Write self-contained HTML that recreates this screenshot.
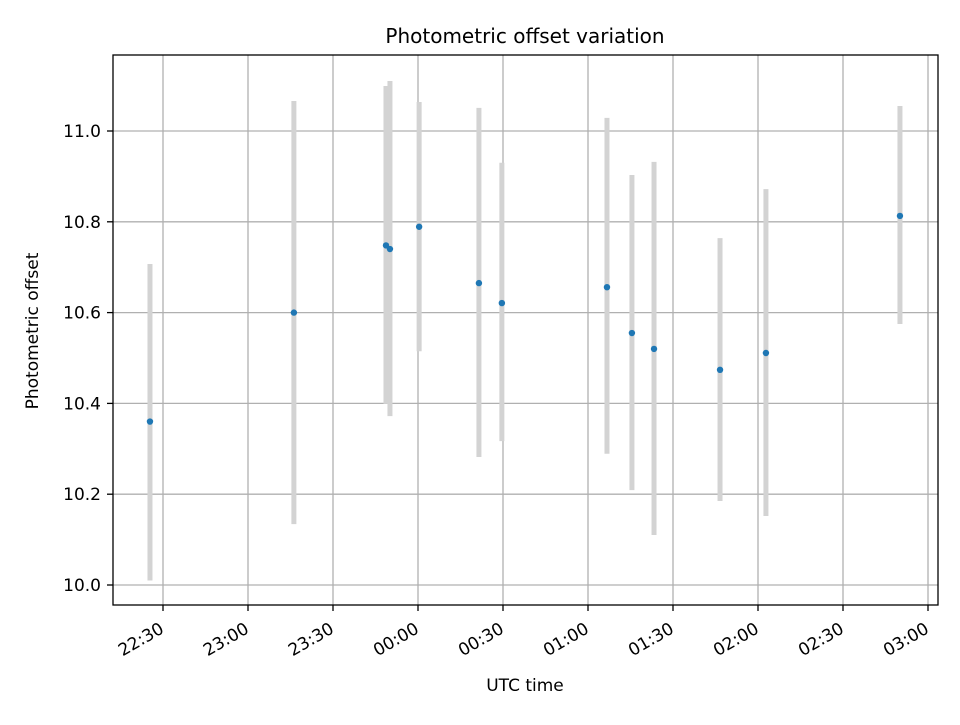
<!DOCTYPE html>
<html><head><meta charset="utf-8"><style>
body{margin:0;background:#fff;}
svg{font-family:"DejaVu Sans","Liberation Sans",sans-serif;}
</style></head><body>
<svg id="chart" width="960" height="720" xmlns="http://www.w3.org/2000/svg">
<rect width="960" height="720" fill="#fff"/>
<text x="525" y="43" text-anchor="middle" font-size="20" fill="#000">Photometric offset variation</text>
<g id="grid"></g>
<g id="errs"></g>
<g id="pts"></g>
<rect x="113" y="55" width="825" height="550" fill="none" stroke="#000" stroke-width="1.3"/>
<g id="xt"></g>
<g id="yt"></g>
<text x="525" y="691" text-anchor="middle" font-size="17">UTC time</text>
<text transform="translate(38,331) rotate(-90)" text-anchor="middle" font-size="17">Photometric offset</text>
</svg>
<script>
// minutes after 22:30
const times = [-4.6, 46.2, 78.7, 80.1, 90.4, 111.5, 119.6, 156.7, 165.5, 173.3, 196.6, 212.8, 260.1];
const values = [10.36, 10.60, 10.748, 10.740, 10.789, 10.665, 10.621, 10.656, 10.555, 10.520, 10.474, 10.511, 10.813];
const errLow = [10.01, 10.134, 10.399, 10.372, 10.515, 10.282, 10.317, 10.289, 10.209, 10.110, 10.185, 10.152, 10.575];
const errHigh = [10.707, 11.066, 11.099, 11.110, 11.064, 11.051, 10.930, 11.029, 10.903, 10.932, 10.764, 10.872, 11.055];
const xTickMin = [0, 30, 60, 90, 120, 150, 180, 210, 240, 270];
const xTickLabels = ["22:30","23:00","23:30","00:00","00:30","01:00","01:30","02:00","02:30","03:00"];
const yTicks = [10.0, 10.2, 10.4, 10.6, 10.8, 11.0];
const yTickLabels = ["10.0","10.2","10.4","10.6","10.8","11.0"];

const X = m => 163 + m * 85 / 30;
const Y = v => 585 - (v - 10) * 454;
const NS = "http://www.w3.org/2000/svg";
function mk(tag, attrs, parent){const e=document.createElementNS(NS,tag);for(const k in attrs)e.setAttribute(k,attrs[k]);parent.appendChild(e);return e;}
const grid=document.getElementById('grid'), xt=document.getElementById('xt'), yt=document.getElementById('yt');
const errs=document.getElementById('errs'), pts=document.getElementById('pts');
xTickMin.forEach((m,i)=>{
  const x=X(m);
  const g=mk('line',{x1:x,x2:x,y1:55,y2:605,stroke:'#b0b0b0','stroke-width':1.3},grid);
  
  
  const t=mk('line',{x1:x,x2:x,y1:605,y2:611,stroke:'#000','stroke-width':1.3},xt);
  
  
  const ax=x+2, ay=632;
  const l=mk('text',{x:ax,y:ay,'text-anchor':'end','font-size':17,transform:`rotate(-30 ${ax} ${ay})`},xt);
  l.textContent=xTickLabels[i];
  
  
});
yTicks.forEach((v,i)=>{
  const y=Y(v);
  const g=mk('line',{x1:113,x2:938,y1:y,y2:y,stroke:'#b0b0b0','stroke-width':1.3},grid);
  
  
  const t=mk('line',{x1:107,x2:113,y1:y,y2:y,stroke:'#000','stroke-width':1.3},yt);
  
  
  const l=mk('text',{x:101,y:y+6,'text-anchor':'end','font-size':17},yt);
  l.textContent=yTickLabels[i];
  
  
});
times.forEach((m,i)=>{
  const x=X(m);
  const e=mk('line',{x1:x,x2:x,y1:Y(errLow[i]),y2:Y(errHigh[i]),stroke:'#d3d3d3','stroke-width':5},errs);
  
  
  const c=mk('circle',{cx:x,cy:Y(values[i]),r:3.2,fill:'#1f77b4'},pts);
  
  
});
</script>
</body></html>
